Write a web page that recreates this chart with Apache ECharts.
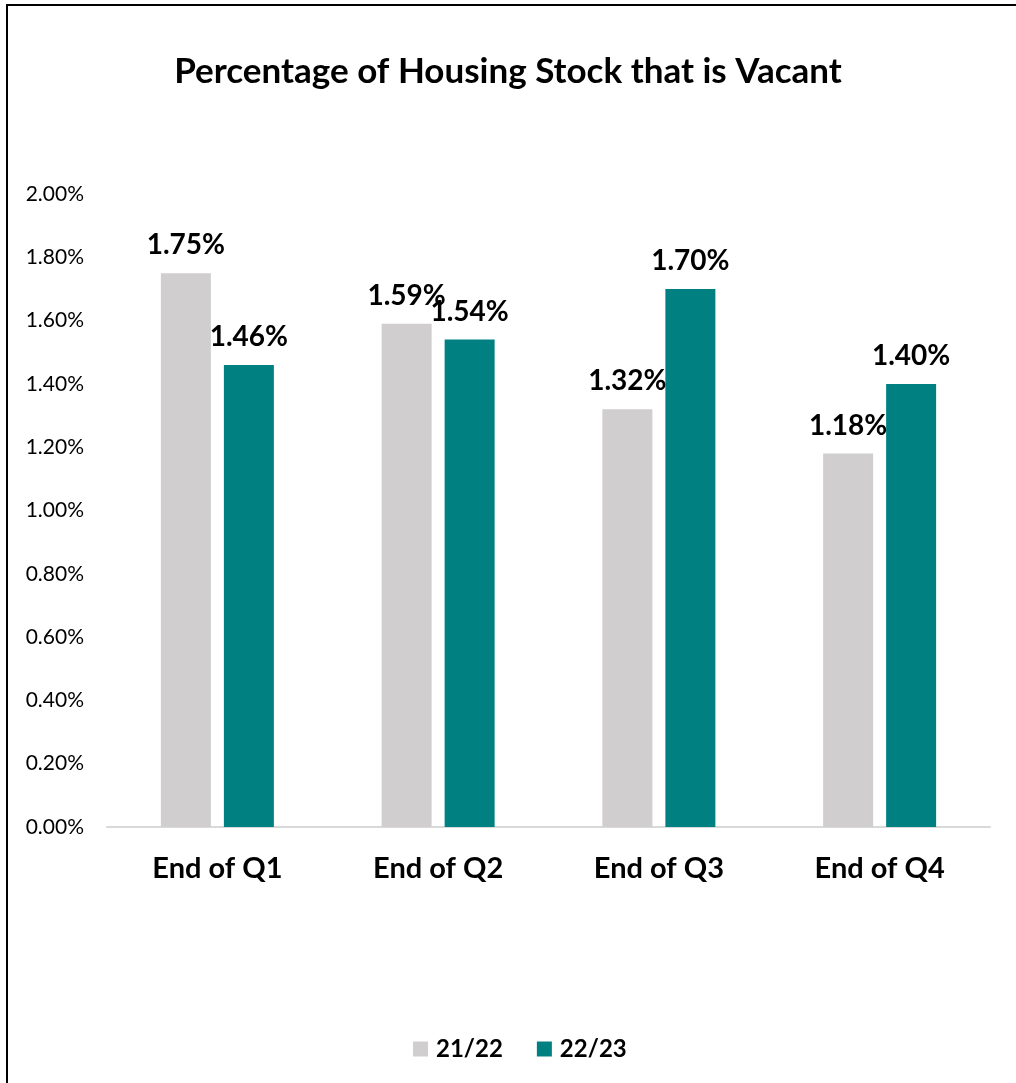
<!DOCTYPE html>
<html>
<head>
<meta charset="utf-8">
<script src="https://cdn.jsdelivr.net/npm/echarts@6/dist/echarts.min.js"></script>
<style>
  html, body { margin: 0; padding: 0; background: #fff; }
  #chart { width: 1016px; height: 1083px; }
</style>
</head>
<body>
<div id="chart"></div>
<script>
var categories = ["End of Q1", "End of Q2", "End of Q3", "End of Q4"];
var series2122 = [1.75, 1.59, 1.32, 1.18];
var series2223 = [1.46, 1.54, 1.70, 1.40];
var seriesNames = ["21/22", "22/23"];

var font = "Lato, Carlito, 'Open Sans', sans-serif";

function pct(v) {
  return Number(v).toFixed(2) + "%";
}

var labelStyle = {
  show: true,
  position: "top",
  distance: 14,
  fontFamily: font,
  fontWeight: "bold",
  fontSize: 28,
  color: "#000",
  formatter: function (p) { return pct(p.value); }
};

var chart = echarts.init(document.getElementById("chart"));
chart.setOption({
  backgroundColor: "#fff",
  animation: false,
  title: {
    text: "Percentage of Housing Stock that is Vacant",
    left: "center",
    top: 49,
    textStyle: {
      fontFamily: font,
      fontWeight: "bold",
      fontSize: 35,
      color: "#000"
    }
  },
  graphic: [
    {
      type: "rect",
      shape: { x: 7, y: 5, width: 1100, height: 1200 },
      style: { fill: "none", stroke: "#000", lineWidth: 2 },
      silent: true
    }
  ],
  legend: {
    bottom: 17,
    left: 408,
    itemWidth: 15,
    itemHeight: 15,
    itemGap: 34,
    icon: "rect",
    textStyle: {
      fontFamily: font,
      fontWeight: "bold",
      fontSize: 24,
      color: "#000",
      padding: [0, 0, 0, 3]
    },
    data: seriesNames
  },
  grid: {
    left: 107,
    right: 26,
    top: 194,
    bottom: 256,
    containLabel: false
  },
  xAxis: {
    type: "category",
    data: categories,
    axisLine: { lineStyle: { color: "#d9d9d9", width: 2 } },
    axisTick: { show: false },
    axisLabel: {
      margin: 27,
      fontFamily: font,
      fontWeight: "bold",
      fontSize: 29,
      color: "#000"
    }
  },
  yAxis: {
    type: "value",
    min: 0,
    max: 2,
    interval: 0.2,
    axisLine: { show: false },
    axisTick: { show: false },
    splitLine: { show: false },
    axisLabel: {
      margin: 23,
      fontFamily: font,
      fontSize: 21,
      color: "#000",
      formatter: pct
    }
  },
  series: [
    {
      name: seriesNames[0],
      type: "bar",
      data: series2122,
      barWidth: 50,
      barGap: "26%",
      itemStyle: { color: "#d0cece" },
      label: labelStyle
    },
    {
      name: seriesNames[1],
      type: "bar",
      data: series2223,
      barWidth: 50,
      itemStyle: { color: "#008080" },
      label: labelStyle
    }
  ]
});
</script>
</body>
</html>
